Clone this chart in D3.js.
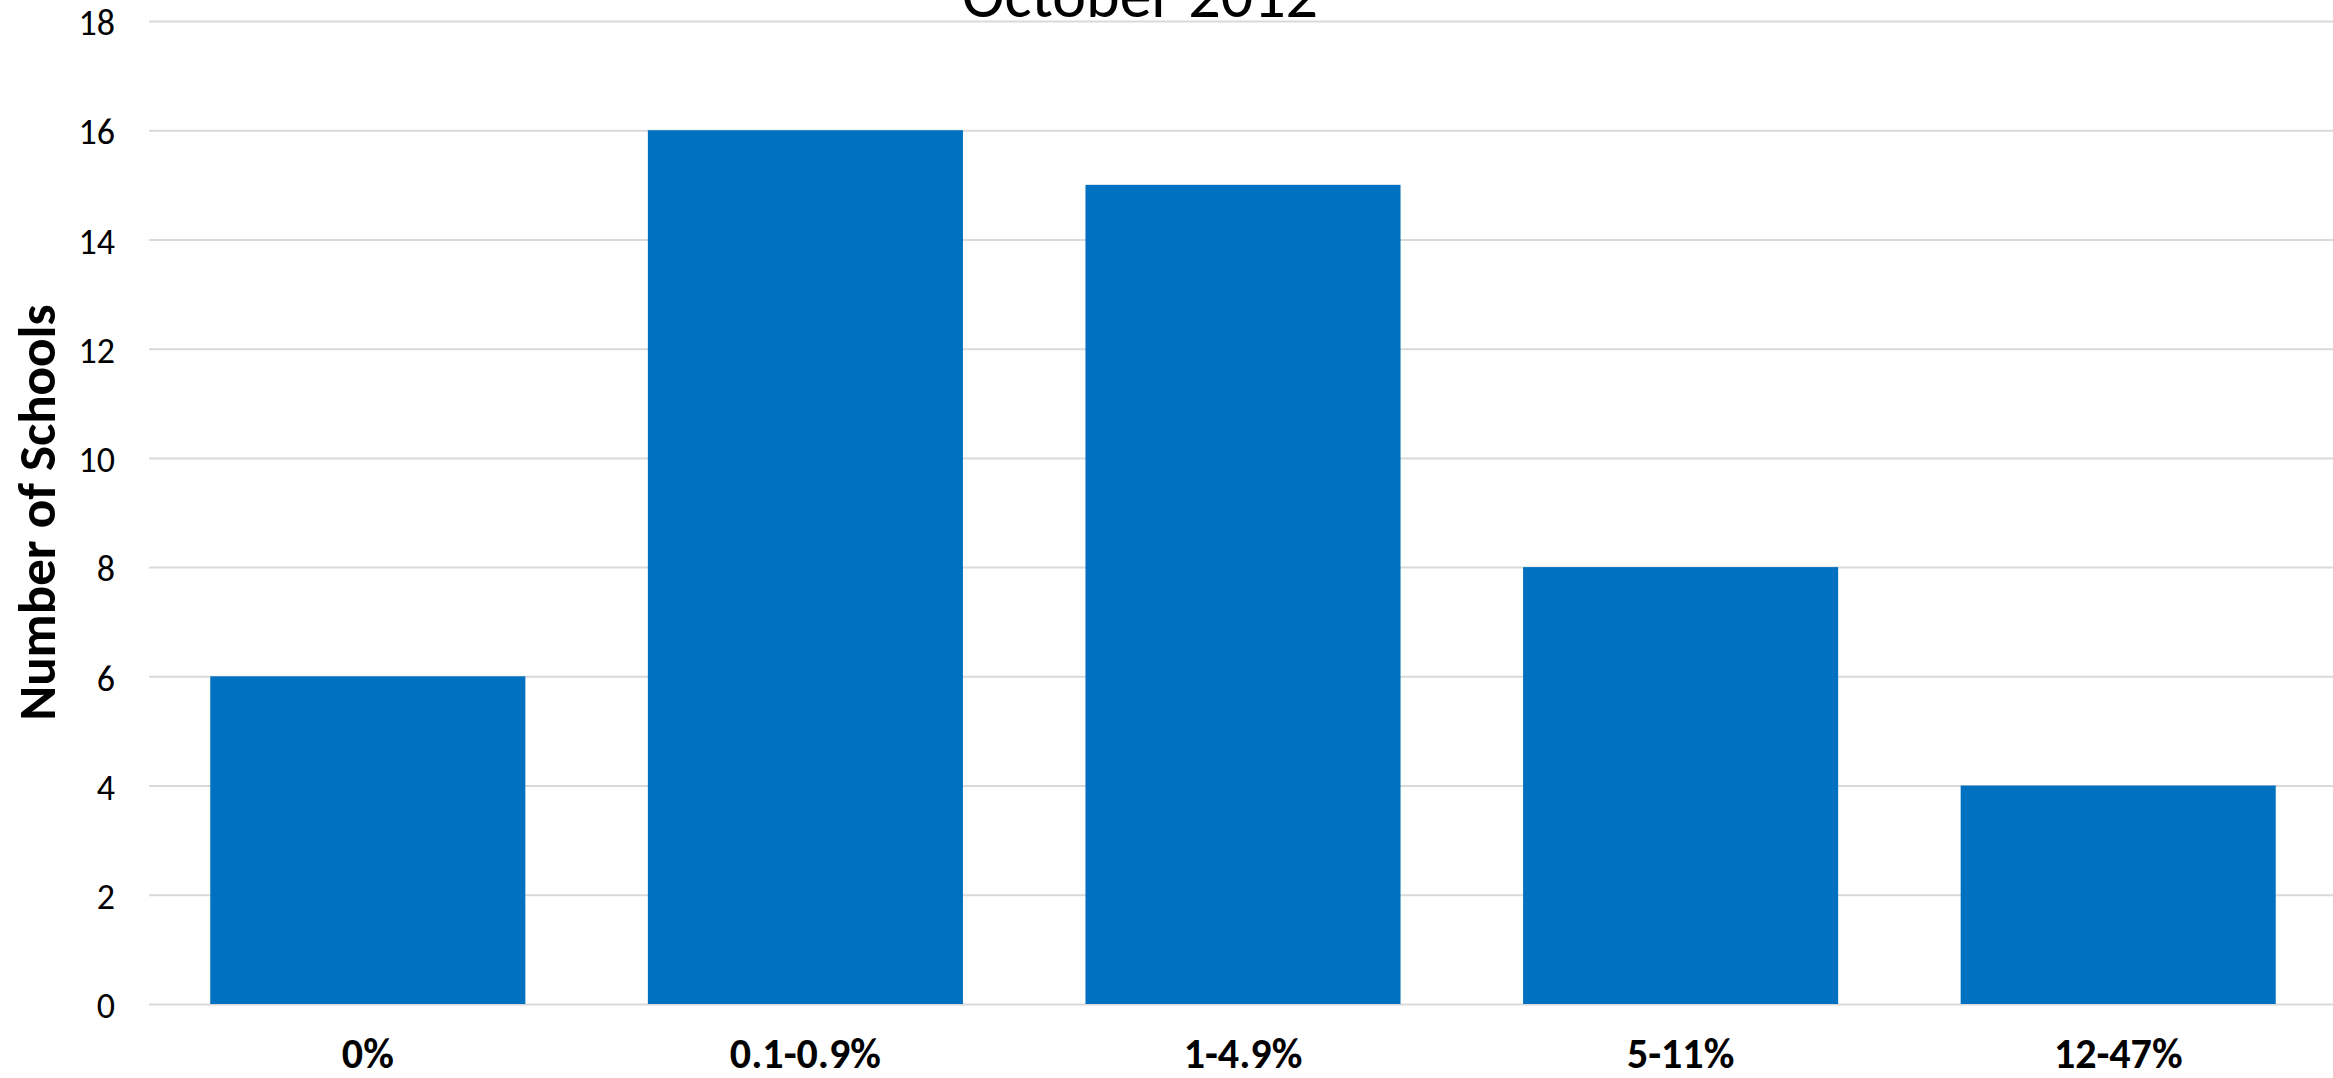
<!DOCTYPE html>
<html>
<head>
<meta charset="utf-8">
<script src="https://cdn.jsdelivr.net/npm/d3@7"></script>
<style>
  html, body { margin: 0; padding: 0; background: #fff; overflow: hidden; }
  svg { display: block; }
  text { font-family: Carlito, Calibri, Lato, "Open Sans", sans-serif; fill: #000; }
</style>
</head>
<body>
<svg id="chart" width="2333" height="1078"></svg>
<script>
const categories = ["0%", "0.1-0.9%", "1-4.9%", "5-11%", "12-47%"];
const schoolCounts = [6, 16, 15, 8, 4];
const yTicks = [0, 2, 4, 6, 8, 10, 12, 14, 16, 18];
const chartTitle = "October 2012";
const yAxisTitle = "Number of Schools";

const W = 2333, H = 1078;
const margin = { left: 149, top: 21, bottom: 74 };
const plotRight = 2337;
const svg = d3.select("#chart");

const x = d3.scaleBand()
  .domain(categories)
  .range([margin.left, plotRight])
  .paddingInner(0.28)
  .paddingOuter(0.14);

const y = d3.scaleLinear()
  .domain([0, 18])
  .range([H - margin.bottom, margin.top]);

// gridlines
const grid = svg.append("g")
  .attr("transform", `translate(${margin.left},0)`)
  .call(d3.axisLeft(y).tickValues(yTicks).tickSize(-(W - margin.left)).tickFormat(""));
grid.select(".domain").remove();
grid.selectAll("line").attr("stroke", "#d9d9d9").attr("stroke-width", 2);

// bars
svg.append("g").selectAll("rect")
  .data(categories.map((c, i) => ({ c, v: schoolCounts[i] })))
  .join("rect")
  .attr("x", d => x(d.c))
  .attr("width", x.bandwidth())
  .attr("y", d => y(d.v))
  .attr("height", d => y(0) - y(d.v))
  .attr("fill", "#0070C0");

// y axis labels
const yAxis = svg.append("g")
  .attr("transform", `translate(${margin.left},0)`)
  .call(d3.axisLeft(y).tickValues(yTicks).tickSize(0).tickPadding(34));
yAxis.select(".domain").remove();
yAxis.selectAll("text")
  .style("font-size", "36px")
  .attr("dy", "0.38em")
  .attr("fill", "#000");

// x axis labels
const xAxis = svg.append("g")
  .attr("transform", `translate(0,${y(0)})`)
  .call(d3.axisBottom(x).tickSize(0).tickPadding(0));
xAxis.select(".domain").remove();
xAxis.selectAll("text")
  .attr("dy", null)
  .attr("y", 64)
  .style("font-size", "42px")
  .style("font-weight", "bold")
  .attr("fill", "#000");

// titles
svg.append("text")
  .attr("x", 1140)
  .attr("y", 17)
  .attr("text-anchor", "middle")
  .style("font-size", "64px")
  .text(chartTitle);

svg.append("text")
  .attr("transform", `translate(55,${(y(0) + y(18)) / 2}) rotate(-90)`)
  .attr("text-anchor", "middle")
  .style("font-size", "53px")
  .style("font-weight", "bold")
  .text(yAxisTitle);
</script>
</body>
</html>
